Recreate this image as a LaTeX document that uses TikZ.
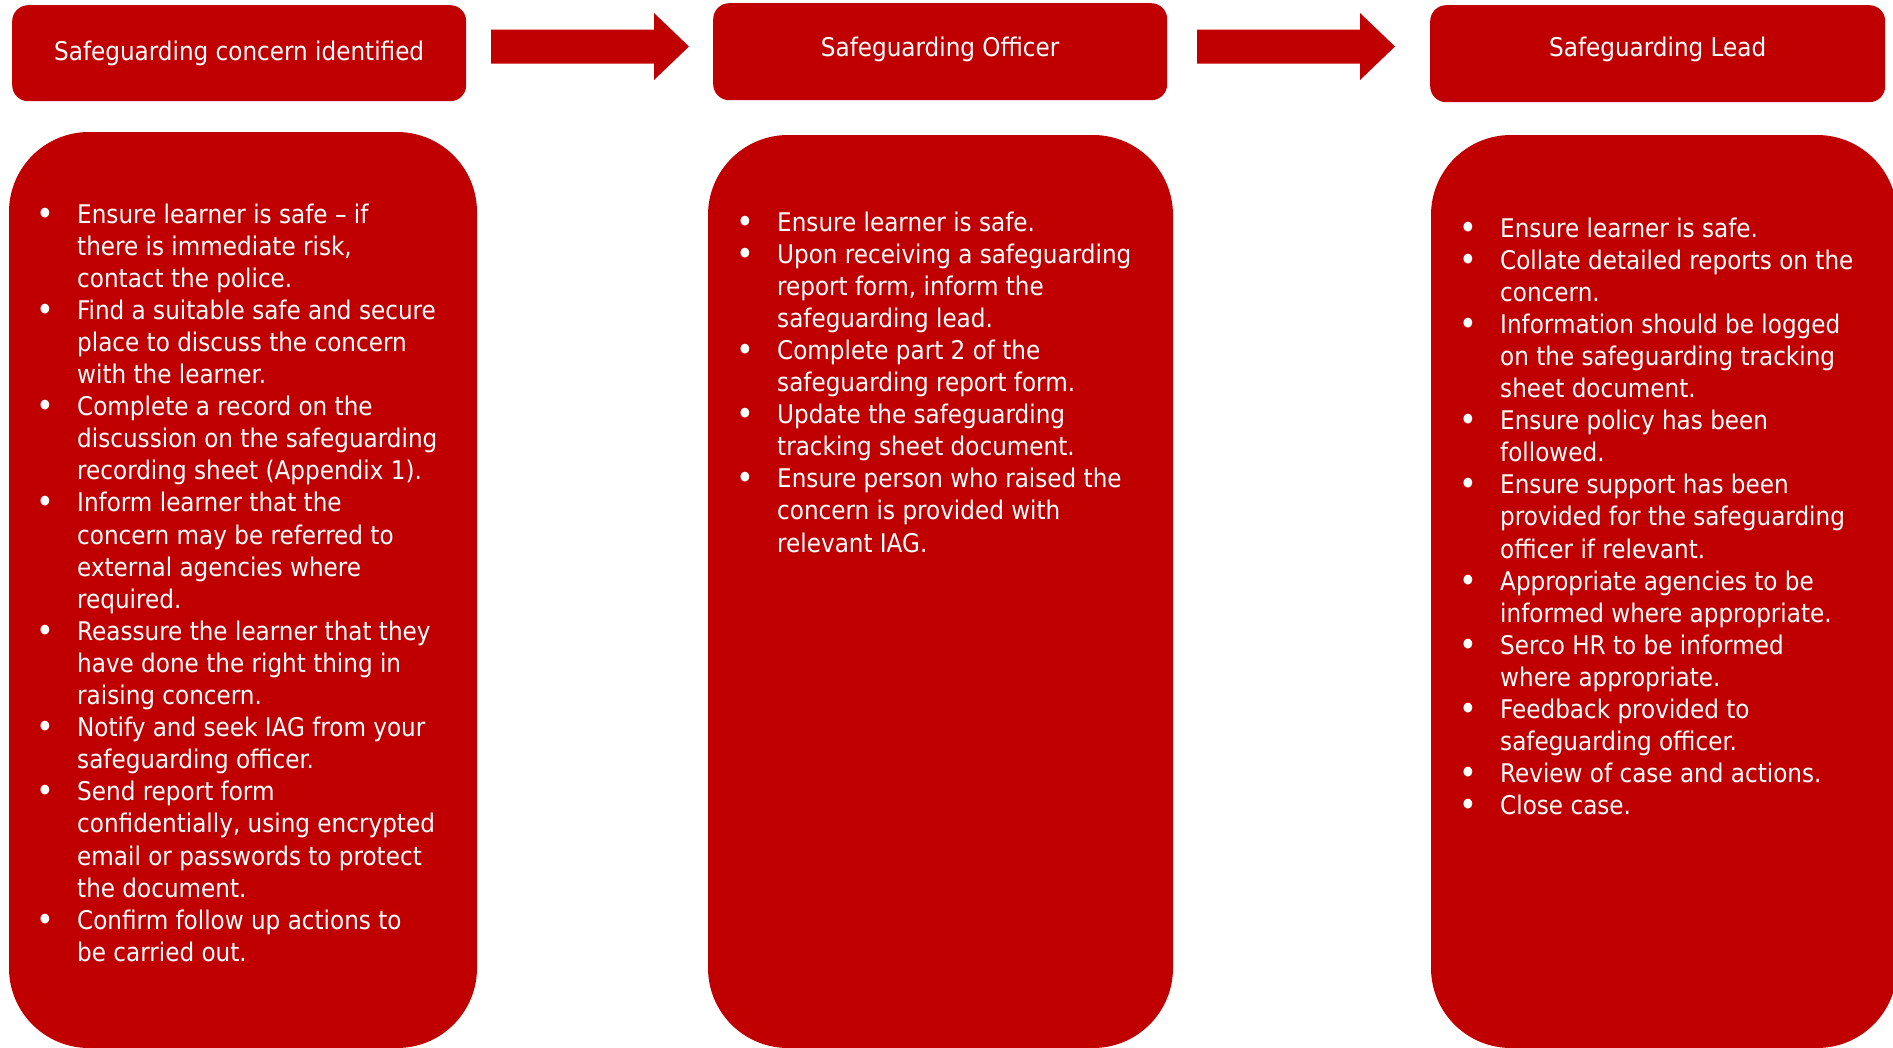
\documentclass[tikz,border=0pt]{standalone}
\usepackage{fontspec}
\setmainfont{DejaVu Sans Condensed}
\usetikzlibrary{calc}
\definecolor{sgred}{HTML}{C00000}
\newcommand\bul{\makebox[32pt][l]{\makebox[0pt][c]{\raisebox{-2pt}{\scalebox{1.3}{•}}}}}
\newcommand\nob{\makebox[32pt][l]{}}
\tikzset{
  hdr/.style={rectangle, rounded corners=16pt, fill=sgred, text=white, inner sep=0pt,
    font=\fontsize{25.7}{32.1}\selectfont, anchor=north west},
  bigbox/.style={fill=sgred, rounded corners=80pt},
  txtcol/.style={anchor=base west, inner sep=0pt, text=white,
    font=\fontsize{25.7}{32.1}\selectfont},
  blockarrow/.style={fill=sgred}
}
\begin{document}
\begin{tikzpicture}[x=1pt,y=-1pt]
\useasboundingbox (0,0) rectangle (1893,1047);
\clip (0,0) rectangle (1893,1047);

% header boxes
\node[hdr, minimum width=454pt, minimum height=96pt, text height=20pt, text depth=6pt] (h1) at (12,5) {Safeguarding concern identified};
\node[hdr, minimum width=454pt, minimum height=97pt, text height=18pt, text depth=8pt] (h2) at (713,3) {Safeguarding Officer};
\node[hdr, minimum width=455pt, minimum height=97pt, text height=16pt, text depth=11pt] (h3) at (1430,5) {Safeguarding Lead};

% block arrows
\coordinate (a1s) at (491,46.5);
\coordinate (a1t) at (689,46.5);
\fill[blockarrow] (a1s) ++(0,-17) -- ($(a1t)+(-35,-17)$) -- ($(a1t)+(-35,-33.5)$) -- (a1t)
  -- ($(a1t)+(-35,33.5)$) -- ($(a1t)+(-35,17)$) -- ($(a1s)+(0,17)$) -- cycle;
\coordinate (a2s) at (1197,46.5);
\coordinate (a2t) at (1395,46.5);
\fill[blockarrow] (a2s) ++(0,-17) -- ($(a2t)+(-35,-17)$) -- ($(a2t)+(-35,-33.5)$) -- (a2t)
  -- ($(a2t)+(-35,33.5)$) -- ($(a2t)+(-35,17)$) -- ($(a2s)+(0,17)$) -- cycle;

% big boxes
\fill[bigbox] (9,132) rectangle (477,1048);
\fill[bigbox] (708,135) rectangle (1173,1048);
\fill[bigbox] (1431,135) rectangle (1897,1048);

% column 1
\node[txtcol] (c1) at (45,223) {\begin{tabular}[t]{@{}l@{}l@{}}
\bul & Ensure learner is safe – if \\
\nob & there is immediate risk, \\
\nob & contact the police. \\
\bul & Find a suitable safe and secure \\
\nob & place to discuss the concern \\
\nob & with the learner. \\
\bul & Complete a record on the \\
\nob & discussion on the safeguarding \\
\nob & recording sheet (Appendix 1). \\
\bul & Inform learner that the \\
\nob & concern may be referred to \\
\nob & external agencies where \\
\nob & required. \\
\bul & Reassure the learner that they \\
\nob & have done the right thing in \\
\nob & raising concern. \\
\bul & Notify and seek IAG from your \\
\nob & safeguarding officer. \\
\bul & Send report form \\
\nob & confidentially, using encrypted \\
\nob & email or passwords to protect \\
\nob & the document. \\
\bul & Confirm follow up actions to \\
\nob & be carried out.
\end{tabular}};

% column 2
\node[txtcol] (c2) at (745,231) {\begin{tabular}[t]{@{}l@{}l@{}}
\bul & Ensure learner is safe. \\
\bul & Upon receiving a safeguarding \\
\nob & report form, inform the \\
\nob & safeguarding lead. \\
\bul & Complete part 2 of the \\
\nob & safeguarding report form. \\
\bul & Update the safeguarding \\
\nob & tracking sheet document. \\
\bul & Ensure person who raised the \\
\nob & concern is provided with \\
\nob & relevant IAG.
\end{tabular}};

% column 3
\node[txtcol] (c3) at (1468,237) {\begin{tabular}[t]{@{}l@{}l@{}}
\bul & Ensure learner is safe. \\
\bul & Collate detailed reports on the \\
\nob & concern. \\
\bul & Information should be logged \\
\nob & on the safeguarding tracking \\
\nob & sheet document. \\
\bul & Ensure policy has been \\
\nob & followed. \\
\bul & Ensure support has been \\
\nob & provided for the safeguarding \\
\nob & officer if relevant. \\
\bul & Appropriate agencies to be \\
\nob & informed where appropriate. \\
\bul & Serco HR to be informed \\
\nob & where appropriate. \\
\bul & Feedback provided to \\
\nob & safeguarding officer. \\
\bul & Review of case and actions. \\
\bul & Close case.
\end{tabular}};
\end{tikzpicture}
\end{document}
